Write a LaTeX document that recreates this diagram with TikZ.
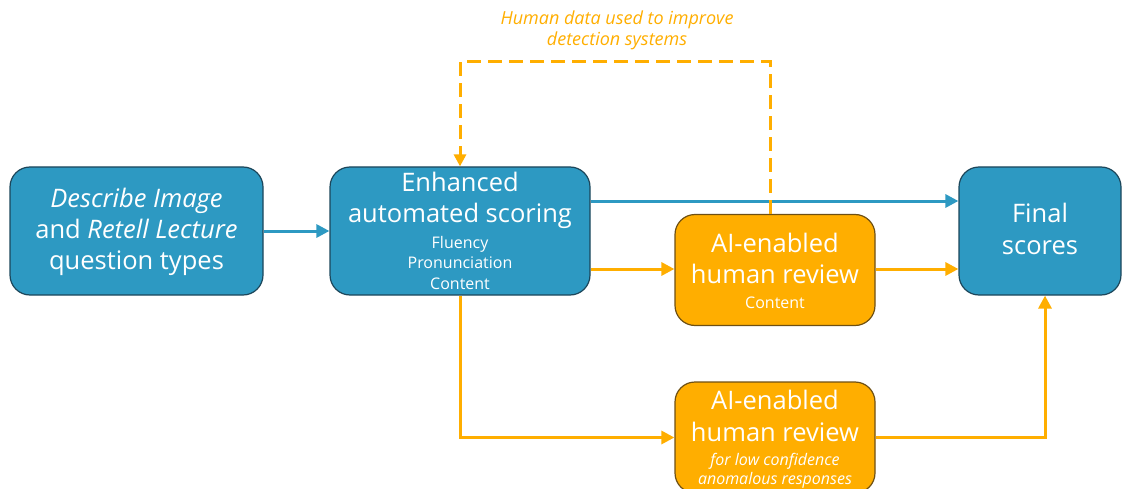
\documentclass[tikz,border=0pt]{standalone}
\usepackage{fontspec}
\setmainfont{Open Sans}
\usetikzlibrary{arrows.meta,calc}
\definecolor{pblue}{RGB}{45,153,194}
\definecolor{pblueedge}{RGB}{28,70,90}
\definecolor{porange}{RGB}{255,174,0}
\definecolor{porangeedge}{RGB}{110,80,20}
\tikzset{
  box/.style={rectangle, rounded corners=20pt, line width=1.2pt, inner sep=0pt},
  bluebox/.style={box, fill=pblue, draw=pblueedge},
  orbox/.style={box, fill=porange, draw=porangeedge},
  bigt/.style={text=white, anchor=mid, inner sep=0pt, font=\fontsize{25.5}{30}\selectfont},
  smt/.style={text=white, anchor=mid, inner sep=0pt, font=\fontsize{16}{19}\selectfont},
  smit/.style={smt, font=\fontsize{16}{19}\selectfont\itshape},
  lblt/.style={text=porange, anchor=mid, inner sep=0pt, font=\fontsize{18}{21}\selectfont\itshape},
  conn/.style={line width=3pt, -{Triangle[length=13pt,width=13pt]}},
  bconn/.style={conn, draw=pblue, color=pblue},
  oconn/.style={conn, draw=porange, color=porange},
}
\begin{document}
\begin{tikzpicture}[x=1pt,y=-1pt]
\useasboundingbox (0,0) rectangle (1123,489);
% boxes
\node[bluebox, minimum width=253pt, minimum height=128pt] (b1) at (136.5,231) {};
\node[bluebox, minimum width=260pt, minimum height=128pt] (b2) at (460,231) {};
\node[orbox, minimum width=200pt, minimum height=111pt] (b3) at (775,270) {};
\node[orbox, minimum width=200pt, minimum height=111pt] (b4) at (775,437.5) {};
\node[bluebox, minimum width=162pt, minimum height=128pt] (fin) at (1040,231) {};
% texts
\node[bigt] (b1a) at (136.5,205) {\itshape Describe Image};
\node[bigt] (b1b) at (136.5,236) {and \textit{Retell Lecture}};
\node[bigt] (b1c) at (136.5,267) {question types};
\node[bigt] (b2a) at (460,189) {Enhanced};
\node[bigt] (b2b) at (460,220) {automated scoring};
\node[smt] (b2c) at (460,246) {Fluency};
\node[smt] (b2d) at (460,266) {Pronunciation};
\node[smt] (b2e) at (460,287) {Content};
\node[bigt] (b3a) at (775,250) {AI-enabled};
\node[bigt] (b3b) at (775,281) {human review};
\node[smt] (b3c) at (775,306) {Content};
\node[bigt] (b4a) at (775,407) {AI-enabled};
\node[bigt] (b4b) at (775,439) {human review};
\node[smit] (b4c) at (775,463) {for low confidence};
\node[smit] (b4d) at (775,482) {anomalous responses};
\node[bigt] (fa) at (1040,220) {Final};
\node[bigt] (fb) at (1040,252) {scores};
\node[lblt] (l1) at (617,22) {Human data used to improve};
\node[lblt] (l2) at (617,43) {detection systems};
% connectors
\draw[bconn] (b1.east) -- (b2.west);
\coordinate (b2o1) at ($(b2.east)+(0,-30)$);
\draw[bconn] (b2o1) -- (b2o1 -| fin.west);
\coordinate (b2o2) at ($(b2.east)+(0,38)$);
\draw[oconn] (b2o2) -- (b2o2 -| b3.west);
\draw[oconn] (b3.east |- b2o2) -- (b2o2 -| fin.west);
\draw[oconn] (b2.south) |- (b4.west);
\coordinate (finin) at ($(fin.south)+(5,0)$);
\draw[oconn] (b4.east) -| (finin);
\coordinate (dstart) at ($(b3.north)+(-5,0)$);
\coordinate (dtop) at (770,62);
\draw[oconn, dash pattern=on 14pt off 7pt, -{Triangle[length=12pt,width=12pt]}] (dstart) -- (dtop) -| (b2.north);
\end{tikzpicture}
\end{document}
